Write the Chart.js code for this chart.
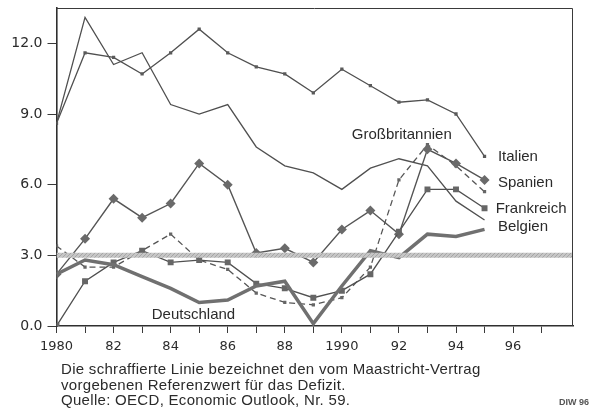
<!DOCTYPE html>
<html>
<head>
<meta charset="utf-8">
<script src="https://cdn.jsdelivr.net/npm/chart.js@4.4.1/dist/chart.umd.min.js"></script>
<style>
  html, body { margin: 0; padding: 0; background: #ffffff; }
  #wrap { position: relative; width: 600px; height: 418px; overflow: hidden; font-family: "Liberation Sans", Arial, sans-serif; color: #2b2b2b; }
  #c { position: absolute; left: 0; top: 0; }
  .lbl { position: absolute; font-size: 15px; white-space: nowrap; transform: translateY(-50%); color: #2b2b2b; }
  #caption { position: absolute; left: 61px; top: 361px; font-size: 15px; letter-spacing: 0.3px; line-height: 15.5px; color: #2b2b2b; }
  #diw { position: absolute; left: 559px; top: 397px; font-family: "Liberation Sans Narrow", "Liberation Sans", Arial, sans-serif; font-size: 9px; font-weight: bold; color: #555; }
</style>
</head>
<body>
<div id="wrap">
  <canvas id="c" width="600" height="418"></canvas>
  <div id="caption">Die schraffierte Linie bezeichnet den vom Maastricht-Vertrag<br>vorgebenen Referenzwert für das Defizit.<br>Quelle: OECD, Economic Outlook, Nr. 59.</div>
  <div id="diw">DIW 96</div>
</div>
<script>
// ---- data ----
const years = [1980, 1981, 1982, 1983, 1984, 1985, 1986, 1987, 1988, 1989, 1990, 1991, 1992, 1993, 1994, 1995];
const italien        = [8.6, 11.6, 11.4, 10.7, 11.6, 12.6, 11.6, 11.0, 10.7, 9.9, 10.9, 10.2, 9.5, 9.6, 9.0, 7.2];
const belgien        = [8.6, 13.1, 11.1, 11.6, 9.4, 9.0, 9.4, 7.6, 6.8, 6.5, 5.8, 6.7, 7.1, 6.8, 5.3, 4.5];
const spanien        = [2.2, 3.7, 5.4, 4.6, 5.2, 6.9, 6.0, 3.1, 3.3, 2.7, 4.1, 4.9, 3.9, 7.5, 6.9, 6.2];
const grossbritannien= [3.4, 2.5, 2.5, 3.2, 3.9, 2.8, 2.4, 1.4, 1.0, 0.9, 1.2, 2.5, 6.2, 7.7, 6.8, 5.7];
const frankreich     = [0.0, 1.9, 2.7, 3.2, 2.7, 2.8, 2.7, 1.8, 1.6, 1.2, 1.5, 2.2, 4.0, 5.8, 5.8, 5.0];
const deutschland    = [2.2, 2.8, 2.6, 2.1, 1.6, 1.0, 1.1, 1.7, 1.9, 0.1, 1.7, 3.2, 2.9, 3.9, 3.8, 4.1];
const referenzwert = 3.0;
const yTicks = [0, 3, 6, 9, 12];
const xLabelYears = [1980, 1982, 1984, 1986, 1988, 1990, 1992, 1994, 1996];

// label anchors in data units
const seriesLabels = [
  { text: 'Großbritannien', x: 1992.1, y: 8.2, align: 'center' },
  { text: 'Italien',        x: 1995.47, y: 7.26, align: 'left' },
  { text: 'Spanien',        x: 1995.47, y: 6.15, align: 'left' },
  { text: 'Frankreich',     x: 1995.39, y: 5.04, align: 'left' },
  { text: 'Belgien',        x: 1995.47, y: 4.29, align: 'left' },
  { text: 'Deutschland',    x: 1984.8, y: 0.54, align: 'center' }
];

const toXY = arr => arr.map((v, i) => ({ x: years[i], y: v }));
const X_MIN = 1980, X_MAX = 1998.1;

const lineCol = '#505050';

const borderBox = {
  id: 'borderBox',
  afterDraw(chart) {
    const a = chart.chartArea, ctx = chart.ctx;
    ctx.save();
    ctx.strokeStyle = '#3a3a3a';
    ctx.lineWidth = 1;
    ctx.beginPath();
    ctx.moveTo(a.left, a.top + 0.5);
    ctx.lineTo(a.right - 0.5, a.top + 0.5);
    ctx.lineTo(a.right - 0.5, a.bottom);
    ctx.stroke();
    ctx.restore();
  }
};

// hatched pattern for the reference line
function hatch() {
  const p = document.createElement('canvas');
  p.width = 4; p.height = 4;
  const g = p.getContext('2d');
  g.fillStyle = '#c6c6c6';
  g.fillRect(0, 0, 4, 4);
  g.strokeStyle = '#a6a6a6';
  g.lineWidth = 1;
  g.beginPath();
  g.moveTo(0, 4); g.lineTo(4, 0);
  g.stroke();
  return g.createPattern(p, 'repeat');
}

const chart = new Chart(document.getElementById('c'), {
  type: 'line',
  data: {
    datasets: [
      { label: 'Referenzwert', data: [{ x: X_MIN, y: referenzwert }, { x: X_MAX, y: referenzwert }],
        borderColor: hatch(), borderWidth: 5, pointRadius: 0, order: 0 },
      { label: 'Belgien', data: toXY(belgien), borderColor: lineCol, borderWidth: 1.3, pointRadius: 0, order: 5 },
      { label: 'Italien', data: toXY(italien), borderColor: lineCol, borderWidth: 1.3,
        pointStyle: 'rect', pointRadius: 2.3, pointBackgroundColor: '#5a5a5a', pointBorderWidth: 0, order: 4 },
      { label: 'Spanien', data: toXY(spanien), borderColor: '#555', borderWidth: 1.4,
        pointStyle: 'rectRot', pointRadius: 5, pointBackgroundColor: '#6a6a6a', pointBorderWidth: 0, order: 3 },
      { label: 'Großbritannien', data: toXY(grossbritannien), borderColor: '#555', borderWidth: 1.3, borderDash: [6, 4],
        pointStyle: 'rect', pointRadius: 2.3, pointBackgroundColor: '#666', pointBorderWidth: 0, order: 3 },
      { label: 'Frankreich', data: toXY(frankreich), borderColor: lineCol, borderWidth: 1.3,
        pointStyle: 'rect', pointRadius: 4.2, pointBackgroundColor: '#666', pointBorderWidth: 0, order: 2 },
      { label: 'Deutschland', data: toXY(deutschland), borderColor: '#707070', borderWidth: 3.5, pointRadius: 0, order: 1 }
    ]
  },
  options: {
    responsive: false,
    animation: false,
    events: [],
    layout: { padding: { left: 0, top: 8, right: 27, bottom: 62 } },
    plugins: { legend: { display: false }, tooltip: { enabled: false } },
    elements: { line: { tension: 0 } },
    scales: {
      x: {
        type: 'linear', min: X_MIN, max: X_MAX,
        afterFit(s) { s.height = 30; s.paddingLeft = 0; s.paddingRight = 0; },
        afterBuildTicks(s) { s.ticks = []; for (let y = X_MIN; y <= 1997; y++) s.ticks.push({ value: y }); },
        ticks: {
          stepSize: 1, autoSkip: false, maxRotation: 0, includeBounds: false, padding: 6,
          color: '#2b2b2b', font: { family: 'DejaVu Sans', size: 13 },
          callback(v) {
            if (!xLabelYears.includes(v)) return '';
            return (v === 1980 || v === 1990) ? String(v) : String(v).slice(2);
          }
        },
        grid: { display: true, drawOnChartArea: false, drawTicks: true, tickLength: 7, color: '#3a3a3a', lineWidth: 1 },
        border: { display: true, color: '#2f2f2f', width: 1.6 }
      },
      y: {
        min: 0, max: 13.5,
        afterFit(s) { s.width = 56.5; s.paddingTop = 0; s.paddingBottom = 0; },
        afterBuildTicks(s) { s.ticks = yTicks.map(v => ({ value: v })); },
        ticks: {
          includeBounds: false, padding: 5,
          color: '#2b2b2b', font: { family: 'DejaVu Sans', size: 14 },
          callback(v) { return Number(v).toFixed(1); }
        },
        grid: { display: true, drawOnChartArea: false, drawTicks: true, tickLength: 9, color: '#3a3a3a', lineWidth: 1 },
        border: { display: true, color: '#2f2f2f', width: 1.6 }
      }
    }
  },
  plugins: [borderBox]
});

// place series labels through the chart's scales
const wrap = document.getElementById('wrap');
const sx = chart.scales.x, sy = chart.scales.y;
seriesLabels.forEach(l => {
  const d = document.createElement('div');
  d.className = 'lbl';
  d.textContent = l.text;
  const px = sx.getPixelForValue(l.x), py = sy.getPixelForValue(l.y);
  d.style.top = py + 'px';
  d.style.left = px + 'px';
  if (l.align === 'center') d.style.transform = 'translate(-50%, -50%)';
  wrap.appendChild(d);
});
</script>
</body>
</html>
